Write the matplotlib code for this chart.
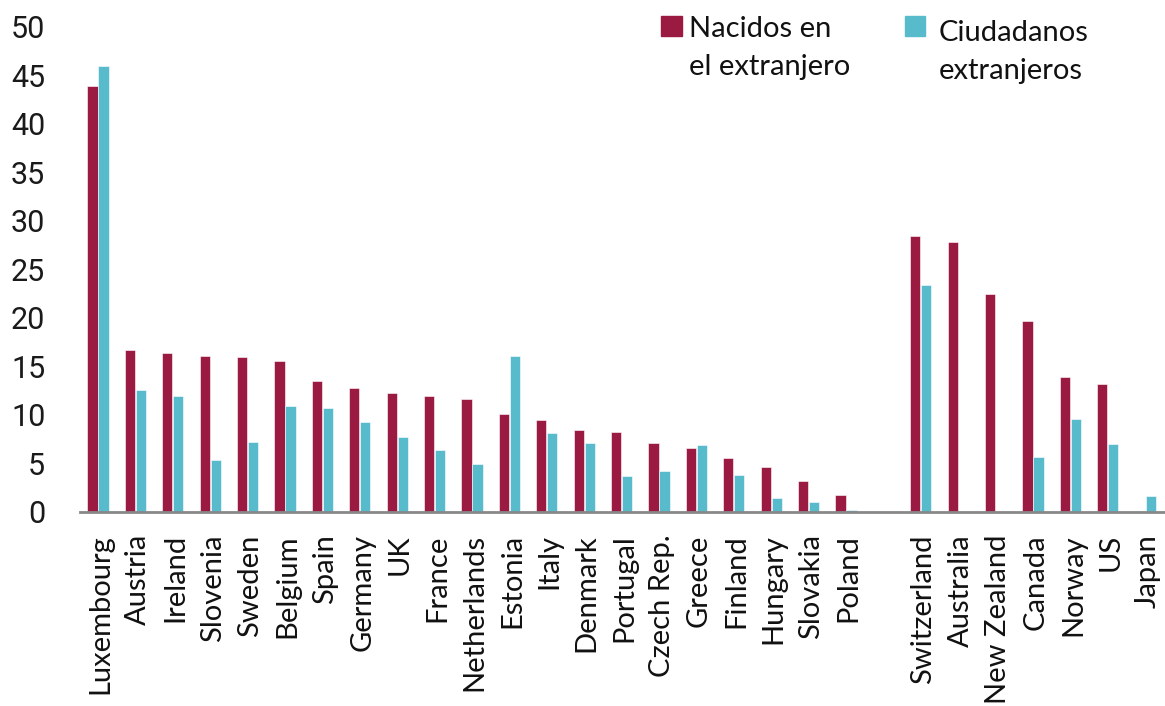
import numpy as np
import matplotlib
matplotlib.use("Agg")
import matplotlib.pyplot as plt
from matplotlib.patches import Rectangle

# countries in plot order, None marks the empty slot between the two groups
countries = ["Luxembourg", "Austria", "Ireland", "Slovenia", "Sweden", "Belgium",
             "Spain", "Germany", "UK", "France", "Netherlands", "Estonia", "Italy",
             "Denmark", "Portugal", "Czech Rep.", "Greece", "Finland", "Hungary",
             "Slovakia", "Poland", None,
             "Switzerland", "Australia", "New Zealand", "Canada", "Norway", "US", "Japan"]

# % of population born abroad
foreign_born = [43.9, 16.7, 16.4, 16.1, 16.0, 15.6,
                13.5, 12.8, 12.3, 12.0, 11.65, 10.1, 9.5,
                8.5, 8.2, 7.1, 6.6, 5.6, 4.6,
                3.2, 1.75, np.nan,
                28.4, 27.8, 22.5, 19.7, 13.9, 13.2, np.nan]

# % of population with foreign citizenship
foreign_citizens = [46.0, 12.6, 12.0, 5.4, 7.2, 10.9,
                    10.75, 9.3, 7.7, 6.4, 4.9, 16.1, 8.1,
                    7.1, 3.75, 4.2, 6.9, 3.85, 1.4,
                    1.06, 0.2, np.nan,
                    23.4, np.nan, np.nan, 5.7, 9.6, 7.0, 1.65]

red = "#9b1a41"
cyan = "#57bbcb"

fig = plt.figure(figsize=(11.65, 7.06), dpi=100)
ax = fig.add_axes([0.0687, 0.2748, 0.9313, 0.687])

x = np.arange(len(countries))
w = 0.27
ax.bar(x - 0.147, foreign_born, w, color=red, edgecolor="white", linewidth=0.4)
ax.bar(x + 0.147, foreign_citizens, w, color=cyan, edgecolor="white", linewidth=0.4)

ax.set_xlim(-0.48, 28.53)
ax.set_ylim(0, 50)
ax.set_yticks(np.arange(0, 51, 5))
ax.tick_params(axis="y", length=0, pad=25, labelsize=22)
for lab in ax.get_yticklabels():
    lab.set_fontfamily("Roboto")
    lab.set_color("#1a1a1a")

ticks = [i for i, c in enumerate(countries) if c is not None]
ax.set_xticks([t + 0.07 for t in ticks])
ax.set_xticklabels([countries[t] for t in ticks], rotation=90, fontsize=21,
                   family="Lato", color="#111111")
ax.tick_params(axis="x", length=0, pad=16)

for s in ["top", "right", "left"]:
    ax.spines[s].set_visible(False)
ax.spines["bottom"].set_color("#888888")
ax.spines["bottom"].set_linewidth(2)

# legend drawn by hand to match the two-line layout
fig.patches.append(Rectangle((661 / 1165, 1 - 36 / 706), 21 / 1165, 20 / 706,
                             transform=fig.transFigure, color=red))
fig.patches.append(Rectangle((905 / 1165, 1 - 36 / 706), 20 / 1165, 20 / 706,
                             transform=fig.transFigure, color=cyan))
fig.text(689 / 1165, 1 - 48 / 706, "Nacidos en\nel extranjero", fontsize=21,
         family="Lato", color="#111111", va="center", linespacing=1.55)
fig.text(939 / 1165, 1 - 52 / 706, "Ciudadanos\nextranjeros", fontsize=21,
         family="Lato", color="#111111", va="center", linespacing=1.55)

fig.savefig("out.png", dpi=100)
